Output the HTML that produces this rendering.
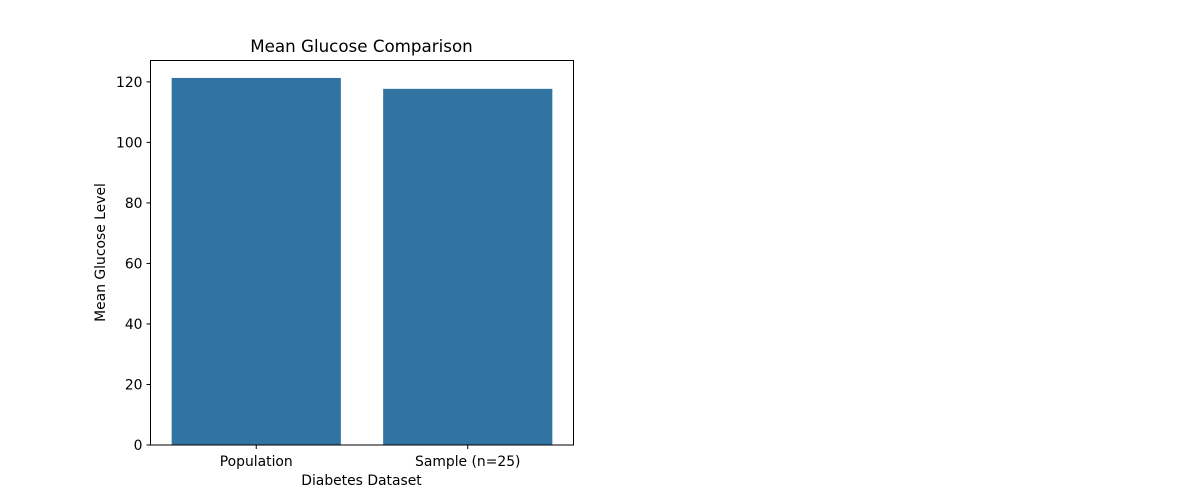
<!DOCTYPE html>
<html><head><meta charset="utf-8"><style>
body{margin:0;background:#fff;}
svg{display:block;font-family:"DejaVu Sans","Liberation Sans",sans-serif;}
</style></head><body>
<svg id="chart" width="1200" height="500">
<rect width="1200" height="500" fill="#fff"/>
<text x="361.5" y="52" text-anchor="middle" font-size="16.7" fill="#000">Mean Glucose Comparison</text>
<g id="bars"></g>
<g id="yticks"></g>
<g id="xticks"></g>
<rect x="150.5" y="60.5" width="423" height="384.5" fill="none" stroke="#000" stroke-width="1"/>
<text x="361.5" y="485" text-anchor="middle" font-size="13.9">Diabetes Dataset</text>
<text transform="translate(105,252.5) rotate(-90)" text-anchor="middle" font-size="13.9">Mean Glucose Level</text>
</svg>
<script>
const categories = ["Population", "Sample (n=25)"];
const values = [121.3, 117.7];
const yTicks = [0, 20, 40, 60, 80, 100, 120];
const NS = "http://www.w3.org/2000/svg";
const pl = 150.5, pr = 573.5, pt = 60.7, pb = 445;
const yMax = 127.0;
const yS = v => pb - (v / yMax) * (pb - pt);
const band = (pr - pl) / categories.length;
const xc = i => pl + band * (i + 0.5);
const bw = band * 0.8;
const barsG = document.getElementById('bars');
const xtG = document.getElementById('xticks');
const ytG = document.getElementById('yticks');
categories.forEach((c, i) => {
  const r = document.createElementNS(NS, 'rect');
  r.setAttribute('x', xc(i) - bw / 2);
  r.setAttribute('y', yS(values[i]));
  r.setAttribute('width', bw);
  r.setAttribute('height', pb - yS(values[i]));
  r.setAttribute('fill', '#3274a1');
  
  
  barsG.appendChild(r);
  const l = document.createElementNS(NS, 'line');
  l.setAttribute('x1', xc(i)); l.setAttribute('x2', xc(i));
  l.setAttribute('y1', pb); l.setAttribute('y2', pb + 4);
  l.setAttribute('stroke', '#000');
  
  
  xtG.appendChild(l);
  const t = document.createElementNS(NS, 'text');
  t.setAttribute('x', xc(i)); t.setAttribute('y', pb + 21);
  t.setAttribute('text-anchor', 'middle'); t.setAttribute('font-size', '13.9');
  t.textContent = c;
  
  
  xtG.appendChild(t);
});
yTicks.forEach(v => {
  const l = document.createElementNS(NS, 'line');
  l.setAttribute('x1', pl - 4); l.setAttribute('x2', pl);
  l.setAttribute('y1', yS(v)); l.setAttribute('y2', yS(v));
  l.setAttribute('stroke', '#000');
  
  
  ytG.appendChild(l);
  const t = document.createElementNS(NS, 'text');
  t.setAttribute('x', pl - 8); t.setAttribute('y', yS(v) + 5);
  t.setAttribute('text-anchor', 'end'); t.setAttribute('font-size', '13.9');
  t.textContent = v;
  
  
  ytG.appendChild(t);
});
</script>
</body></html>
